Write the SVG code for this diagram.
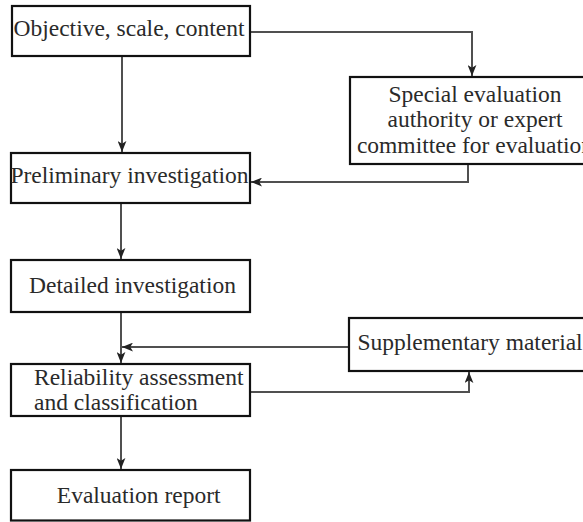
<svg xmlns="http://www.w3.org/2000/svg" width="583" height="522" viewBox="0 0 583 522">
<defs>
<marker id="ah" viewBox="0 0 10 8" refX="10" refY="4" markerWidth="11" markerHeight="9" markerUnits="userSpaceOnUse" orient="auto">
<path d="M0,0 L10,4 L0,8 L2.5,4 Z" fill="#222"/>
</marker>
<style>
.box{fill:#fff;stroke:#111;stroke-width:2.2}
.t{font-family:'Liberation Serif','Times New Roman',serif;font-size:23.5px;fill:#2a2a2a}
.c{fill:none;stroke:#505050;stroke-width:2}
</style>
</defs>
<rect width="583" height="522" fill="#fff"/>
<g id="connectors">
<path class="c" d="M250,32 H472 V76" marker-end="url(#ah)"/>
<path class="c" d="M122,56 V152" marker-end="url(#ah)"/>
<path class="c" d="M468,164 V182 H251" marker-end="url(#ah)"/>
<path class="c" d="M121,203 V259" marker-end="url(#ah)"/>
<path class="c" d="M121,312 V363" marker-end="url(#ah)"/>
<path class="c" d="M349,347 H122" marker-end="url(#ah)"/>
<path class="c" d="M250,392 H469 V372" marker-end="url(#ah)"/>
<path class="c" d="M121,416 V469" marker-end="url(#ah)"/>
</g>
<g id="n1">
<rect class="box" x="12" y="6" width="238" height="50"/>
<text class="t" x="129" y="35.5" text-anchor="middle" font-family="Liberation Serif, serif">Objective, scale, content</text>
</g>
<g id="n2">
<rect class="box" x="350" y="77" width="245" height="87"/>
<text class="t" x="475" y="101.7" text-anchor="middle">Special evaluation</text>
<text class="t" x="475" y="127.3" text-anchor="middle">authority or expert</text>
<text class="t" x="475" y="152.7" text-anchor="middle">committee for evaluation</text>
</g>
<g id="n3">
<rect class="box" x="11" y="153" width="239" height="50"/>
<text class="t" x="129.5" y="183.3" text-anchor="middle">Preliminary investigation</text>
</g>
<g id="n4">
<rect class="box" x="11" y="260" width="239" height="52"/>
<text class="t" x="132.5" y="293.3" text-anchor="middle">Detailed investigation</text>
</g>
<g id="n5">
<rect class="box" x="11" y="364" width="239" height="52"/>
<text class="t" x="34" y="385">Reliability assessment</text>
<text class="t" x="34" y="410">and classification</text>
</g>
<g id="n6">
<rect class="box" x="349" y="318" width="245" height="53"/>
<text class="t" x="357.5" y="350">Supplementary material</text>
</g>
<g id="n7">
<rect class="box" x="11" y="470" width="239" height="50.5"/>
<text class="t" x="138.7" y="503.3" text-anchor="middle">Evaluation report</text>
</g>
</svg>
